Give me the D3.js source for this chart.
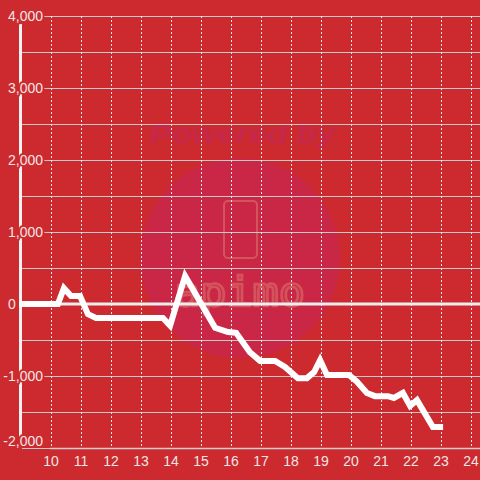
<!DOCTYPE html>
<html>
<head>
<meta charset="utf-8">
<script src="https://cdn.jsdelivr.net/npm/d3@7"></script>
<style>
  html, body { margin: 0; padding: 0; background: #cc2a2f; }
  svg { display: block; }
</style>
</head>
<body>
<svg id="chart"></svg>
<script>
(function () {

    // day of month (x) and balance (y)
    var days = [8.95, 10.23, 10.43, 10.67, 10.97, 11.23, 11.5, 13.73, 13.97, 14.47,
        15.47, 15.9, 16.17, 16.63, 16.97, 17.47, 17.8, 18.23, 18.53, 18.77,
        18.97, 19.2, 19.93, 20.2, 20.53, 20.8, 21.23, 21.43, 21.73, 21.97,
        22.2, 22.73, 23.07];
    var balance = [0, 0, 220, 110, 110, -140, -195, -195, -300, 390,
        -330, -390, -400, -670, -790, -790, -875, -1030, -1030, -945,
        -780, -985, -985, -1080, -1235, -1280, -1280, -1305, -1235, -1415,
        -1335, -1710, -1710];
    var xTicks = [10, 11, 12, 13, 14, 15, 16, 17, 18, 19, 20, 21, 22, 23, 24];
    var yTicks = [-2000, -1000, 0, 1000, 2000, 3000, 4000];
    var yGrid = [-2000, -1500, -1000, -500, 0, 500, 1000, 1500, 2000, 2500, 3000, 3500, 4000];

    var width = 480;
    var height = 480;
    var bg = "#cc2a2f";

    var x = d3.scaleLinear().domain([10, 24]).range([51, 471]);
    var y = d3.scaleLinear().domain([-2000, 4000]).range([448, 16]);

    var svg = d3.select("#chart")
        .attr("width", width)
        .attr("height", height);

    svg.append("rect")
        .attr("width", width)
        .attr("height", height)
        .attr("fill", bg);

    // watermark
    var wm = svg.append("g");
    wm.append("circle")
        .attr("cx", 240)
        .attr("cy", 258)
        .attr("r", 100)
        .attr("fill", "#c92745");
    wm.append("text")
        .attr("x", 150)
        .attr("y", 143)
        .attr("textLength", 185)
        .attr("lengthAdjust", "spacingAndGlyphs")
        .style("font-family", "Liberation Sans, Arial, sans-serif")
        .style("font-size", "26px")
        .style("font-weight", "bold")
        .style("font-style", "italic")
        .attr("fill", "#c6284b")
        .text("Powered by");
    wm.append("rect")
        .attr("x", 224)
        .attr("y", 201)
        .attr("width", 33)
        .attr("height", 57)
        .attr("rx", 4)
        .attr("fill", "none")
        .attr("stroke", "#d4545e")
        .attr("stroke-width", 2);
    wm.append("text")
        .attr("x", 174)
        .attr("y", 306)
        .attr("textLength", 131)
        .attr("lengthAdjust", "spacingAndGlyphs")
        .style("font-family", "DejaVu Sans Mono, monospace")
        .style("font-size", "40px")
        .attr("fill", "none")
        .attr("stroke", "#d4545e")
        .attr("stroke-width", 2.5)
        .text("apimo");

    // horizontal grid
    svg.append("g")
        .selectAll("line")
        .data(yGrid)
        .enter()
        .append("line")
        .attr("x1", 22)
        .attr("x2", width)
        .attr("y1", d => y(d) + 0.5)
        .attr("y2", d => y(d) + 0.5)
        .attr("stroke", "#c8c8c8")
        .attr("stroke-width", 1);

    // vertical dotted grid
    svg.append("g")
        .selectAll("line")
        .data(xTicks)
        .enter()
        .append("line")
        .attr("x1", d => x(d) + 0.5)
        .attr("x2", d => x(d) + 0.5)
        .attr("y1", y(4000))
        .attr("y2", y(-2000))
        .attr("stroke", "#e6e6e6")
        .attr("stroke-width", 1)
        .attr("stroke-dasharray", "2,2");

    // x axis line
    svg.append("line")
        .attr("x1", 50)
        .attr("x2", width)
        .attr("y1", y(-2000) + 0.5)
        .attr("y2", y(-2000) + 0.5)
        .attr("stroke", "#cfcfcf")
        .attr("stroke-width", 1.5);

    // y axis bar
    svg.append("line")
        .attr("x1", 20.5)
        .attr("x2", 20.5)
        .attr("y1", 24)
        .attr("y2", 437)
        .attr("stroke", "#f2f2f2")
        .attr("stroke-width", 3);

    // zero line
    svg.append("line")
        .attr("x1", 19)
        .attr("x2", width)
        .attr("y1", y(0))
        .attr("y2", y(0))
        .attr("stroke", "#eeeeee")
        .attr("stroke-width", 3);

    // y labels
    var fmt = d3.format(",");
    svg.append("g")
        .selectAll("text")
        .data(yTicks)
        .enter()
        .append("text")
        .attr("x", d => d === 0 ? 8 : 43)
        .attr("y", d => d === -2000 ? y(d) - 7 : y(d))
        .attr("dy", "0.35em")
        .attr("text-anchor", d => d === 0 ? "start" : "end")
        .style("font-family", "Liberation Sans, Arial, sans-serif")
        .style("font-size", "14px")
        .attr("fill", "#f0e6e6")
        .attr("stroke", bg)
        .attr("stroke-width", d => d === 0 ? 0 : 4)
        .attr("paint-order", "stroke")
        .text(d => fmt(d).replace("−", "-"));

    // x labels
    svg.append("g")
        .selectAll("text")
        .data(xTicks)
        .enter()
        .append("text")
        .attr("x", d => x(d))
        .attr("y", 466)
        .attr("text-anchor", "middle")
        .style("font-family", "Liberation Sans, Arial, sans-serif")
        .style("font-size", "14px")
        .attr("fill", "#f0e6e6")
        .text(d => d);

    // balance line
    var line = d3.line()
        .x((d, i) => x(days[i]))
        .y(d => y(d));

    svg.append("path")
        .datum(balance)
        .attr("d", line)
        .attr("fill", "none")
        .attr("stroke", "#ffffff")
        .attr("stroke-width", 6)
        .attr("stroke-linejoin", "miter");

})();
</script>
</body>
</html>
